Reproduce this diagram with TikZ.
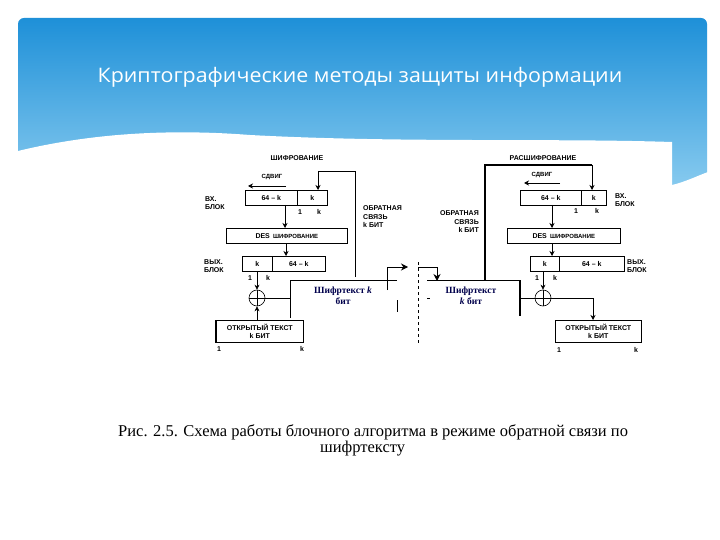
\documentclass[tikz,border=0pt]{standalone}
\usepackage{fontspec}
\setmainfont{Liberation Sans}
\newfontfamily\titlefont{Open Sans}
\newfontfamily\serifcap{Liberation Serif}
\usetikzlibrary{arrows.meta}
\definecolor{bantop}{HTML}{1E90D8}
\definecolor{banbot}{HTML}{8CCDF0}
\begin{document}
\begin{tikzpicture}[x=1pt,y=-1pt,
  lbl/.style={font=\fontsize{7}{8.5}\selectfont\bfseries, inner sep=0pt, align=center},
  lbll/.style={lbl, align=left, anchor=west},
  lblr/.style={lbl, align=right, anchor=east},
  cell/.style={draw, line width=0.6pt, minimum height=15pt, inner sep=0pt, font=\fontsize{7}{8}\selectfont\bfseries},
  conn/.style={line width=0.6pt},
  arr/.style={conn, -{Stealth[length=5pt,width=5pt]}},
  ctext/.style={font=\serifcap\fontsize{9.5}{11}\selectfont\bfseries, text=black!70!blue, align=center, inner sep=0pt}]
\useasboundingbox (0,0) rectangle (720,540);
\fill[white] (0,0) rectangle (720,540);
% banner
\shade[top color=bantop, bottom color=banbot, rounded corners=6pt] (18,18) rectangle (707,195);
\fill[white] (10,153) .. controls (80,135) and (160,128) .. (250,135) .. controls (400,143) and (550,138) .. (672,142) -- (672,545) -- (10,545) -- cycle;
\fill[white] (672,185) .. controls (685,182) and (697,176) .. (708,172) -- (708,545) -- (672,545) -- cycle;
\node[font=\titlefont\fontsize{20}{23}\selectfont, text=white, xscale=1.07] (title) at (360,77) {Криптографические методы защиты информации};

% ===== left: encryption
\node[lbl] (encT) at (297,158) {ШИФРОВАНИЕ};
\node[lbl, font=\fontsize{6}{7}\selectfont\bfseries] (sh1) at (272,177) {СДВИГ};
\draw[arr] (286,186) -- (248,186);
\node[cell, minimum width=52pt, anchor=north west] (in1a) at (245,190) {64 – k};
\node[cell, minimum width=30pt, anchor=north west] (in1b) at (297,190) {k};
\node[lbll] (vx1) at (205,203) {ВХ.\\БЛОК};
\node[lbl] (o1a) at (300,212) {1}; \node[lbl] (o1b) at (319,212) {k};
\node[cell, minimum width=121pt, anchor=north west] (des1) at (226,228) {DES \,\fontsize{6}{7}\selectfont ШИФРОВАНИЕ};
\node[cell, minimum width=30pt, anchor=north west] (out1a) at (242,256) {k};
\node[cell, minimum width=53pt, anchor=north west] (out1b) at (272,256) {64 – k};
\node[lbll] (vyx1) at (204,266) {ВЫХ.\\БЛОК};
\node[lbl] (p1a) at (250,278) {1}; \node[lbl] (p1b) at (268,278) {k};
\node[draw, circle, minimum size=16pt, inner sep=0pt, line width=0.6pt] (x1) at (257,298) {};
\draw[conn] (x1.north) -- (x1.south) (x1.west) -- (x1.east);
\draw[arr] (257,271) -- (x1.north);
\draw[conn] (290,318) -- (290,280) -- (397,280);
\draw[conn] (397,300) -- (397,312);
\node[ctext] (c1) at (343,296) {Шифртекст \textit{k}\\бит};
\draw[conn] (x1.east) -- (290,298);
\node[draw, line width=0.6pt, minimum width=87pt, minimum height=22pt, anchor=north west, inner sep=0pt, lbl] (pt1) at (216,320) {ОТКРЫТЫЙ ТЕКСТ\\k БИТ};
\draw[line width=1.4pt] (pt1.north west) -- (pt1.south west);
\draw[arr] (pt1.north -| x1) -- (x1.south);
\node[lbl] (q1a) at (219,349) {1}; \node[lbl] (q1b) at (302,349) {k};
\draw[conn] (355,277) -- (355,171) -- (318,171);
\draw[arr] (318,171) -- (318,190);
\draw[arr] (285,205) -- (285,228);
\draw[arr] (286,243) -- (286,256);
\node[lbll] (fb1) at (363,217) {ОБРАТНАЯ\\СВЯЗЬ\\k БИТ};
\draw[line width=1pt] (387,290) -- (387,267);
\draw[line width=1pt, -{Stealth[length=7pt,width=7pt]}] (387,267) -- (408,267);

% ===== right: decryption
\draw[dashed, conn] (418,262) -- (418,344);
\draw[line width=1pt] (418,267) -- (437,267);
\draw[line width=1pt, -{Stealth[length=7pt,width=7pt]}] (437,267) -- (437,281);
\draw[conn] (427,280) -- (520,280);
\draw[line width=1.4pt] (520,280) -- (520,316);
\draw[conn] (427,298) -- (430,298);
\node[ctext] (c2) at (471,296) {Шифртекст\\\textit{k} бит};
\node[lbl] (decT) at (543,158) {РАСШИФРОВАНИЕ};
\node[lbl, font=\fontsize{6}{7}\selectfont\bfseries] (sh2) at (542,175) {СДВИГ};
\draw[arr] (560,183) -- (524,183);
\node[cell, minimum width=61pt, anchor=north west] (in2a) at (520,190) {64 – k};
\node[cell, minimum width=25pt, anchor=north west] (in2b) at (581,190) {k};
\node[lbll] (vx2) at (615,200) {ВХ.\\БЛОК};
\node[lbl] (o2a) at (576,211) {1}; \node[lbl] (o2b) at (597,211) {k};
\draw[line width=1.2pt] (485,280) -- (485,165) -- (592,165);
\draw[arr] (592,165) -- (592,190);
\node[cell, minimum width=113pt, anchor=north west] (des2) at (507,228) {DES \,\fontsize{6}{7}\selectfont ШИФРОВАНИЕ};
\draw[arr] (552,205) -- (552,228);
\draw[arr] (552,243) -- (552,256);
\node[cell, minimum width=29pt, anchor=north west] (out2a) at (530,256) {k};
\node[cell, minimum width=65pt, anchor=north west] (out2b) at (559,256) {64 – k};
\node[lbll] (vyx2) at (627,266) {ВЫХ.\\БЛОК};
\node[lbl] (p2a) at (537,278) {1}; \node[lbl] (p2b) at (555,278) {k};
\node[draw, circle, minimum size=16pt, inner sep=0pt, line width=0.6pt] (x2) at (543,298) {};
\draw[conn] (x2.north) -- (x2.south) (x2.west) -- (x2.east);
\draw[arr] (543,271) -- (x2.north);
\draw[conn] (520,298) -- (x2.west);
\node[draw, line width=0.6pt, minimum width=86pt, minimum height=22pt, anchor=north west, inner sep=0pt, lbl] (pt2) at (555,320) {ОТКРЫТЫЙ ТЕКСТ\\k БИТ};
\draw[conn] (x2.east) -- (593,298);
\draw[arr] (593,298) -- (593,320);
\node[lbl] (q2a) at (559,350) {1}; \node[lbl] (q2b) at (636,350) {k};
\node[lblr] (fb2) at (479,222) {ОБРАТНАЯ\\СВЯЗЬ\\k БИТ};

% caption
\node[font=\serifcap\fontsize{16.5}{16}\selectfont, align=left, anchor=north west, inner sep=0pt] (cap) at (118,424) {Рис. 2.5. Схема работы блочного алгоритма в режиме обратной связи по\\\hspace*{202pt}шифртексту};
\end{tikzpicture}
\end{document}
